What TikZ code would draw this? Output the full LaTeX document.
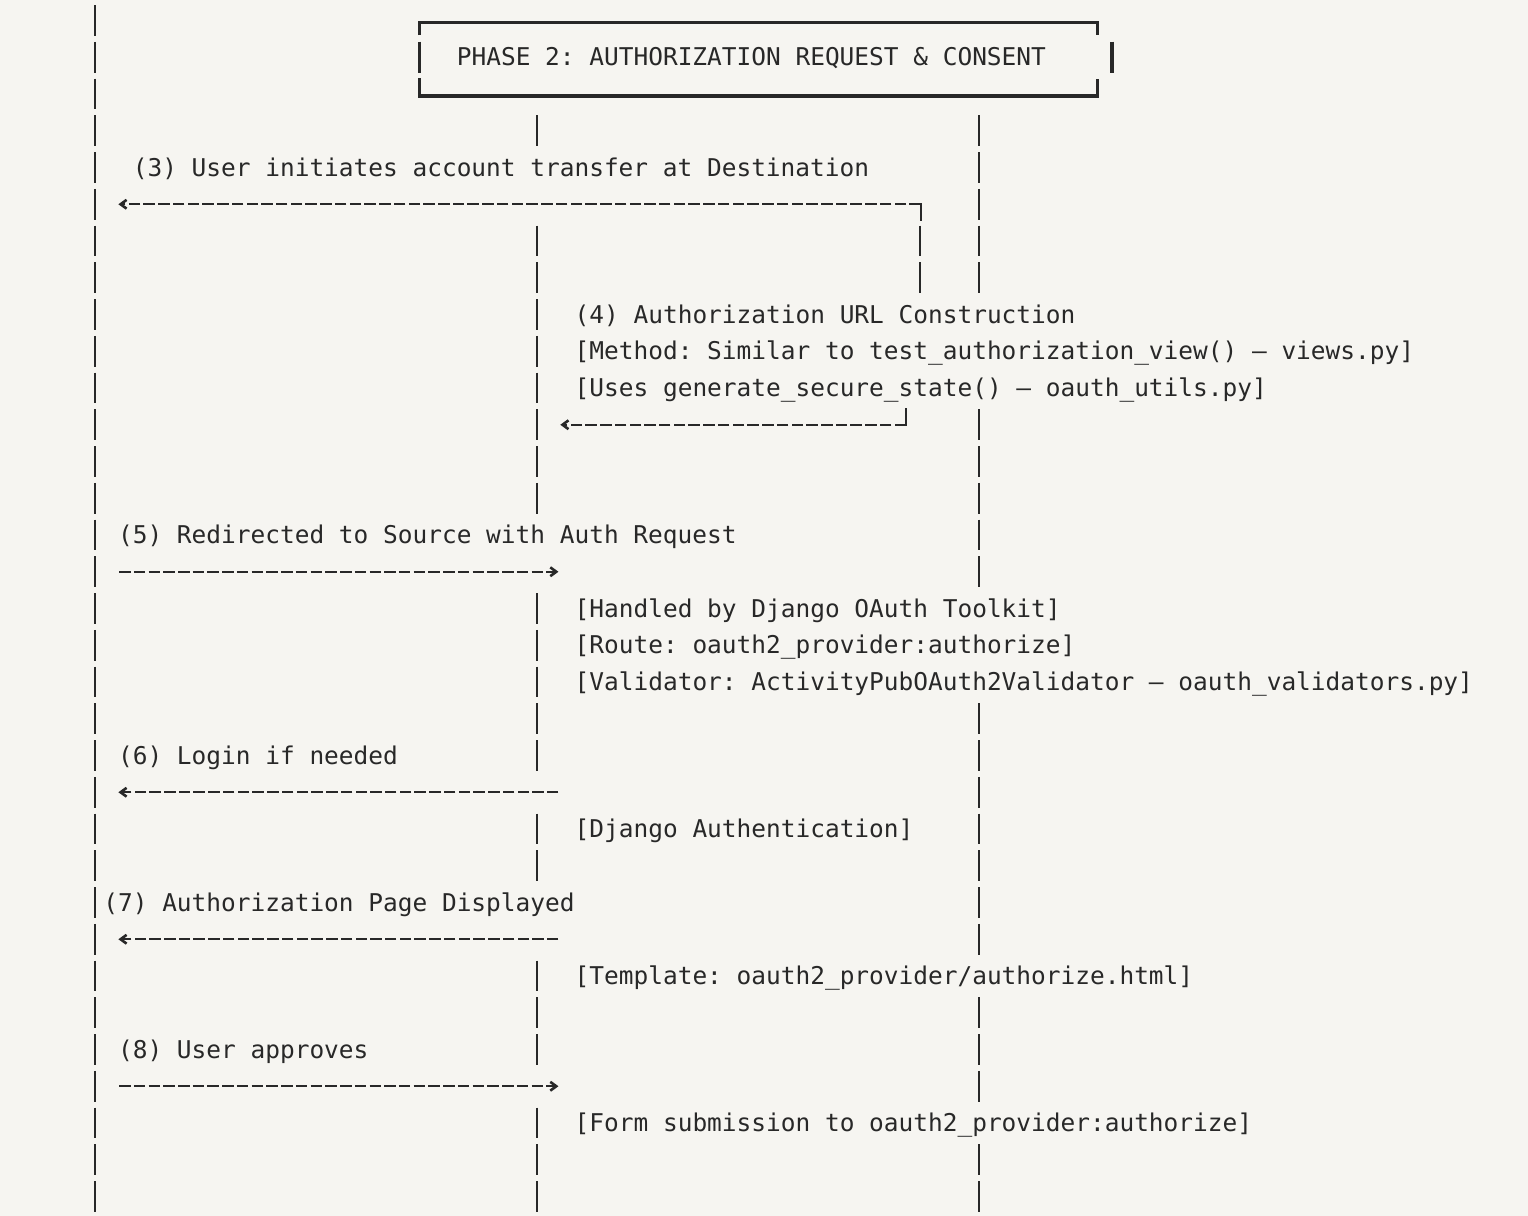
\documentclass[tikz,border=0pt]{standalone}
\usepackage{fontspec}
\setmonofont{DejaVu Sans Mono}
\usetikzlibrary{arrows.meta}
\definecolor{bg}{HTML}{F6F5F1}
\definecolor{ink}{HTML}{282828}
\newcommand\colL[1]{(0.25+(#1)*14.73)}
\newcommand\colC[1]{(0.25+(#1+0.5)*14.73)}
\newcommand\rowC[1]{(20.5+(#1)*36.75)}
\newcommand\rowB[1]{(29+(#1)*36.75)}
\begin{document}
\begin{tikzpicture}[x=0.5pt,y=-0.5pt,
  >={Straight Barb[length=3pt,width=4.4pt,line width=1.3pt]},
  txt/.style={anchor=base west,inner sep=0pt,outer sep=0pt,text=ink,font=\ttfamily\fontsize{12.23pt}{14pt}\selectfont},
  lifeline/.style={draw=ink,line width=1.1pt,dash pattern=on 15.35pt off 3.025pt},
  hline/.style={draw=ink,line width=1.1pt,dash pattern=on 5.75pt off 1.615pt},
  solidv/.style={draw=ink,line width=1.1pt},
  heavy/.style={draw=ink,line width=1.8pt}
]
\fill[bg] (0,0) rectangle (1528,1216);
\useasboundingbox (0,0) rectangle (1528,1216);

% lifelines (runs of per-row bars)
\foreach \cc/\aa/\bb [count=\i] in {6/0/32, 36/3/3, 36/6/13, 36/16/20, 36/22/23, 36/26/28, 36/30/32, 66/3/7, 66/11/15, 66/19/25, 66/27/29, 66/31/32, 62/6/7}{
  \coordinate (lt\i) at ({\colC{\cc}-0.6},{\rowC{\aa}-15.35});
  \coordinate (lb\i) at ({\colC{\cc}-0.6},{\rowC{\bb}+15.35});
  \draw[lifeline] (lt\i) -- (lb\i);
}

% phase box
\coordinate (btl) at (419.3,22.3);
\coordinate (btr) at (1097.3,22.3);
\coordinate (bbl) at (419.3,95.7);
\coordinate (bbr) at (1097.3,95.7);
\draw[heavy] (419.3,35) -- (btl) -- (btr) -- (1097.3,35);
\draw[heavy] (419.3,78.3) -- (bbl) -- (bbr) -- (1097.3,79);
\draw[heavy] (419.3,41.7) -- (419.3,72.7);
\draw[heavy] (1111.8,41.7) -- (1111.8,72.7);
\node[txt] (phase) at ({\colL{31}},{\rowB{1}}) {PHASE 2: AUTHORIZATION REQUEST \& CONSENT};

% step texts
\node[txt] (t3) at ({\colL{9}},{\rowB{4}}) {(3) User initiates account transfer at Destination};
\node[txt] (t4) at ({\colL{39}},{\rowB{8}}) {(4) Authorization URL Construction};
\node[txt] (t4a) at ({\colL{39}},{\rowB{9}}) {[Method: Similar to test\_authorization\_view() – views.py]};
\node[txt] (t4b) at ({\colL{39}},{\rowB{10}}) {[Uses generate\_secure\_state() – oauth\_utils.py]};
\node[txt] (t5) at ({\colL{8}},{\rowB{14}}) {(5) Redirected to Source with Auth Request};
\node[txt] (t5a) at ({\colL{39}},{\rowB{16}}) {[Handled by Django OAuth Toolkit]};
\node[txt] (t5b) at ({\colL{39}},{\rowB{17}}) {[Route: oauth2\_provider:authorize]};
\node[txt] (t5c) at ({\colL{39}},{\rowB{18}}) {[Validator: ActivityPubOAuth2Validator – oauth\_validators.py]};
\node[txt] (t6) at ({\colL{8}},{\rowB{20}}) {(6) Login if needed};
\node[txt] (t6a) at ({\colL{39}},{\rowB{22}}) {[Django Authentication]};
\node[txt] (t7) at ({\colL{7}},{\rowB{24}}) {(7) Authorization Page Displayed};
\node[txt] (t7a) at ({\colL{39}},{\rowB{26}}) {[Template: oauth2\_provider/authorize.html]};
\node[txt] (t8) at ({\colL{8}},{\rowB{28}}) {(8) User approves};
\node[txt] (t8a) at ({\colL{39}},{\rowB{30}}) {[Form submission to oauth2\_provider:authorize]};

% arrow (3)
\coordinate (a3) at ({\colL{8}+0.3},{\rowC{5}});
\coordinate (c3) at ({\colC{62}},{\rowC{5}});
\coordinate (d3) at ({\colC{62}},{\rowC{5}+15.35});
\draw[hline,->] (c3) -- (a3);
\draw[solidv,line cap=rect] (c3) -- (d3);

% arrow (4)
\coordinate (a4) at ({\colL{38}+0.3},{\rowC{11}});
\coordinate (c4) at ({\colC{61}},{\rowC{11}});
\coordinate (d4) at ({\colC{61}},{\rowC{11}-15.35});
\draw[hline,->] (c4) -- (a4);
\draw[solidv,line cap=rect] (c4) -- (d4);

% arrow (5)
\coordinate (s5) at ({\colL{8}+1},{\rowC{15}});
\coordinate (e5) at ({\colL{38}-1.5},{\rowC{15}});
\draw[hline,->] (s5) -- (e5);

% arrow (6)
\coordinate (s6) at ({\colL{38}-1.5},{\rowC{21}});
\coordinate (e6) at ({\colL{8}+0.3},{\rowC{21}});
\draw[hline,->] (s6) -- (e6);

% arrow (7)
\coordinate (s7) at ({\colL{38}-1.5},{\rowC{25}});
\coordinate (e7) at ({\colL{8}+0.3},{\rowC{25}});
\draw[hline,->] (s7) -- (e7);

% arrow (8)
\coordinate (s8) at ({\colL{8}+1},{\rowC{29}});
\coordinate (e8) at ({\colL{38}-1.5},{\rowC{29}});
\draw[hline,->] (s8) -- (e8);
\end{tikzpicture}
\end{document}
